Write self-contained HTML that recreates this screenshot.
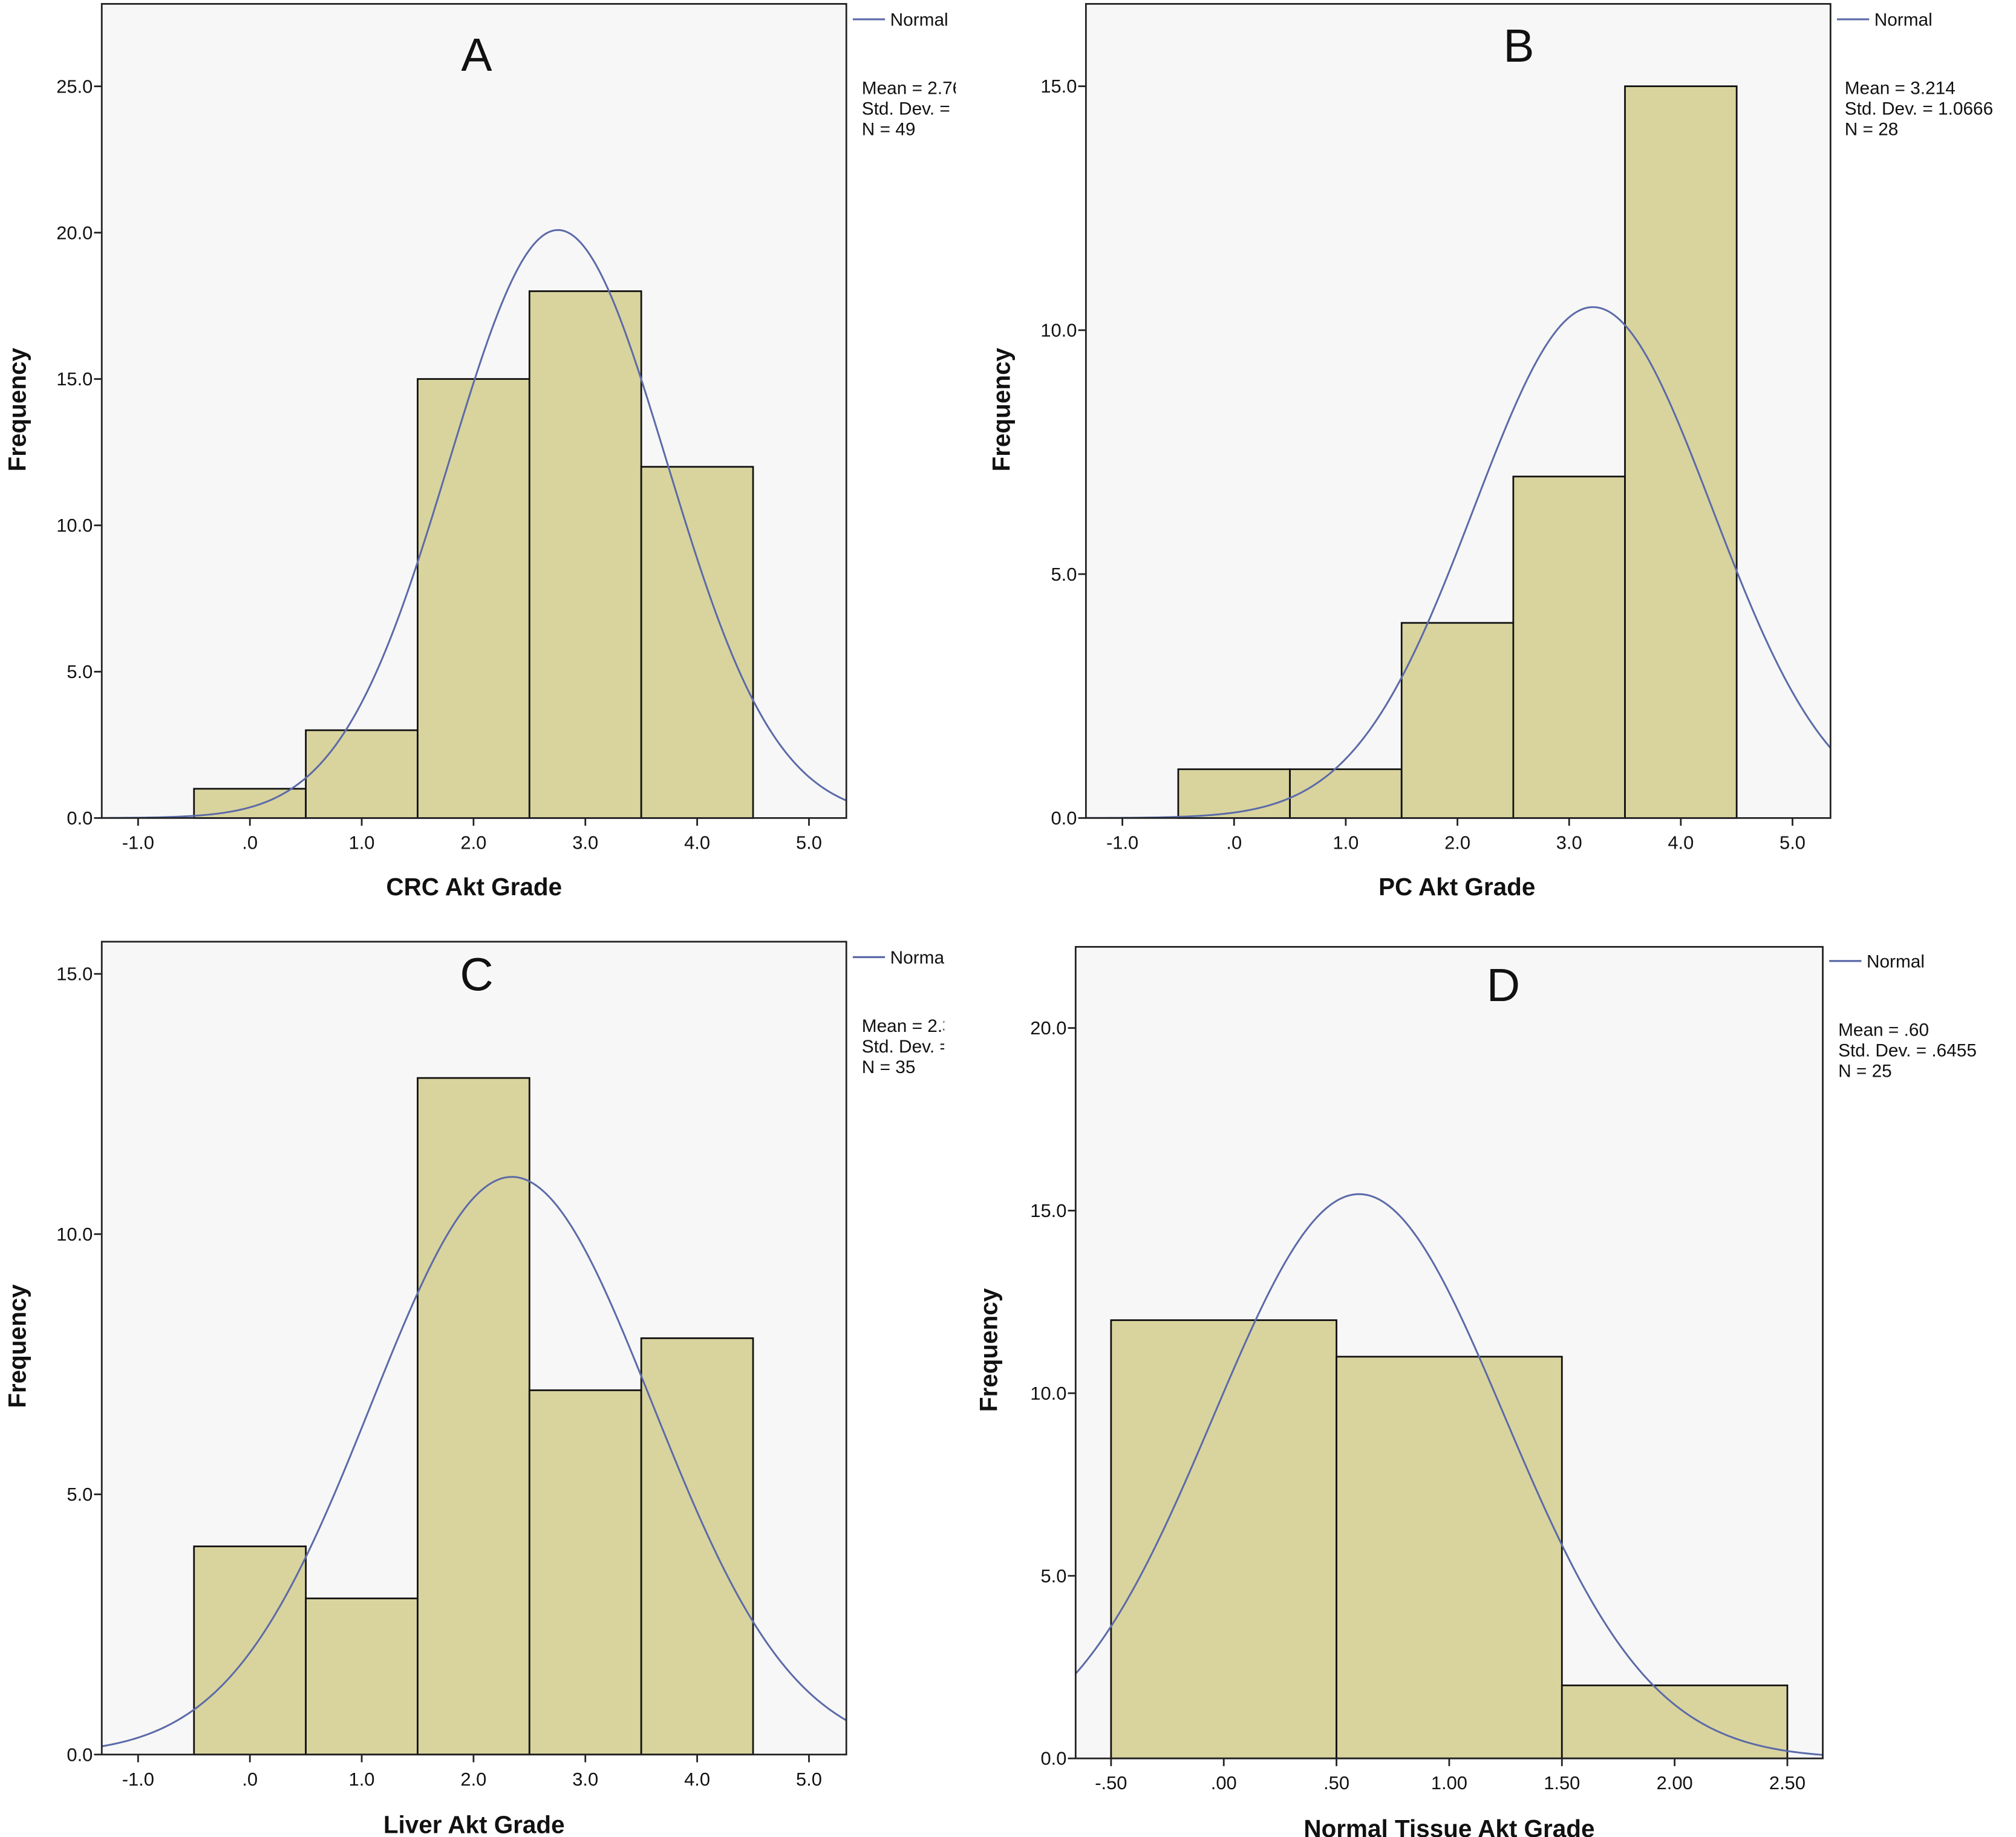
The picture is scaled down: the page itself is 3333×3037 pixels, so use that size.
<!DOCTYPE html>
<html><head><meta charset="utf-8"><title>Akt Grade histograms</title>
<style>
html,body{margin:0;padding:0;background:#fff;}
svg{display:block;font-family:"Liberation Sans",Arial,sans-serif;}
</style></head>
<body>
<svg id="fig" width="3333" height="3037" viewBox="0 0 1565 1426" xmlns="http://www.w3.org/2000/svg"></svg>
<script>
// Panel A data
const aEdges = [-0.5, 0.5, 1.5, 2.5, 3.5, 4.5];
const aCounts = [1, 3, 15, 18, 12];
const aStats = {mean: 2.755, sd: 0.973, n: 49, bw: 1};
const aXTicks = [-1, 0, 1, 2, 3, 4, 5];
const aXLabels = ["-1.0", ".0", "1.0", "2.0", "3.0", "4.0", "5.0"];
const aYTicks = [0, 5, 10, 15, 20, 25];
const aStatText = ["Mean = 2.76", "Std. Dev. = .973", "N = 49"];
// Panel B data
const bEdges = [-0.5, 0.5, 1.5, 2.5, 3.5, 4.5];
const bCounts = [1, 1, 4, 7, 15];
const bStats = {mean: 3.214, sd: 1.0666, n: 28, bw: 1};
const bXTicks = [-1, 0, 1, 2, 3, 4, 5];
const bXLabels = ["-1.0", ".0", "1.0", "2.0", "3.0", "4.0", "5.0"];
const bYTicks = [0, 5, 10, 15];
const bStatText = ["Mean = 3.214", "Std. Dev. = 1.0666", "N = 28"];
// Panel C data
const cEdges = [-0.5, 0.5, 1.5, 2.5, 3.5, 4.5];
const cCounts = [4, 3, 13, 7, 8];
const cStats = {mean: 2.343, sd: 1.258, n: 35, bw: 1};
const cXTicks = [-1, 0, 1, 2, 3, 4, 5];
const cXLabels = ["-1.0", ".0", "1.0", "2.0", "3.0", "4.0", "5.0"];
const cYTicks = [0, 5, 10, 15];
const cStatText = ["Mean = 2.34", "Std. Dev. = 1.258", "N = 35"];
// Panel D data
const dEdges = [-0.5, 0.5, 1.5, 2.5];
const dCounts = [12, 11, 2];
const dStats = {mean: 0.60, sd: 0.6455, n: 25, bw: 1};
const dXTicks = [-0.5, 0, 0.5, 1, 1.5, 2, 2.5];
const dXLabels = ["-.50", ".00", ".50", "1.00", "1.50", "2.00", "2.50"];
const dYTicks = [0, 5, 10, 15, 20];
const dStatText = ["Mean = .60", "Std. Dev. = .6455", "N = 25"];

const NS = "http://www.w3.org/2000/svg";
const fig = document.getElementById("fig");
function mk(tag, attrs, parent, text) {
  const e = document.createElementNS(NS, tag);
  for (const k in attrs) e.setAttribute(k, attrs[k]);
  if (text !== undefined) e.textContent = text;
  (parent || fig).appendChild(e);
  return e;
}

function panel(p) {
  const g = mk("g", {});
  
  
  const X = v => p.x0 + (v - p.xv0) * p.xs;
  const Y = v => p.y0 - v * p.ys;
  // plot background
  const bg = mk("rect", {x: p.L, y: p.T, width: p.R - p.L, height: p.B - p.T, fill: "#f7f7f7"}, g);
  
  
  // bars
  for (let i = 0; i < p.counts.length; i++) {
    const b = mk("rect", {x: X(p.edges[i]), y: Y(p.counts[i]), width: X(p.edges[i + 1]) - X(p.edges[i]),
      height: Y(0) - Y(p.counts[i]), fill: "#d9d49e", stroke: "#111", "stroke-width": 1.3}, g);
    
    
  }
  // normal curve
  const clipId = "clip" + p.id;
  const cp = mk("clipPath", {id: clipId}, g);
  mk("rect", {x: p.L, y: p.T, width: p.R - p.L, height: p.B - p.T}, cp);
  let d = "";
  const xa = p.xv0 + (p.L - p.x0) / p.xs, xb = p.xv0 + (p.R - p.x0) / p.xs;
  const s = p.stats;
  for (let k = 0; k <= 300; k++) {
    const v = xa + (xb - xa) * k / 300;
    const f = s.n * s.bw / (s.sd * Math.sqrt(2 * Math.PI)) * Math.exp(-0.5 * Math.pow((v - s.mean) / s.sd, 2));
    d += (k ? "L" : "M") + X(v).toFixed(2) + "," + Y(f).toFixed(2);
  }
  const c = mk("path", {d: d, fill: "none", stroke: "#5b6aa8", "stroke-width": 1.4, "clip-path": "url(#" + clipId + ")"}, g);
  
  
  // frame
  mk("rect", {x: p.L, y: p.T, width: p.R - p.L, height: p.B - p.T, fill: "none", stroke: "#222", "stroke-width": 1.3}, g);
  // y ticks
  p.yticks.forEach(t => {
    mk("line", {x1: p.L - 6, x2: p.L, y1: Y(t), y2: Y(t), stroke: "#222", "stroke-width": 1.3}, g);
    const tl = mk("text", {x: p.L - 7, y: Y(t) + 5, "text-anchor": "end", "font-size": 14.5, fill: "#111"}, g, t.toFixed(1));
    
    
  });
  // x ticks
  p.xticks.forEach((t, i) => {
    mk("line", {x1: X(t), x2: X(t), y1: p.B, y2: p.B + 6, stroke: "#222", "stroke-width": 1.3}, g);
    const tl = mk("text", {x: X(t), y: p.B + 24, "text-anchor": "middle", "font-size": 14.5, fill: "#111"}, g, p.xlabels[i]);
    
    
  });
  // titles
  const tt = mk("text", {x: p.titleX, y: p.T + p.titleDy, "text-anchor": "middle", "font-size": 36, fill: "#111"}, g, p.id);
  
  
  const xt = mk("text", {x: p.xlabX, y: p.xlabY, "text-anchor": "middle", "font-size": 19, "font-weight": "bold", fill: "#111"}, g, p.xlab);
  
  
  const yt = mk("text", {x: 0, y: 0, "text-anchor": "middle", "font-size": 19, "font-weight": "bold", fill: "#111",
    transform: "translate(" + p.ylabX + "," + p.ylabY + ") rotate(-90)"}, g, "Frequency");
  
  
  // legend
  const lcId = "lclip" + p.id;
  const lc = mk("clipPath", {id: lcId}, g);
  mk("rect", {x: p.R, y: p.T - 5, width: p.legClip - p.R, height: 140}, lc);
  const lg = mk("g", {"clip-path": "url(#" + lcId + ")"}, g);
  
  
  mk("line", {x1: p.R + 5, x2: p.R + 30, y1: p.legY, y2: p.legY, stroke: "#5b6aa8", "stroke-width": 1.5}, lg);
  mk("text", {x: p.R + 34, y: p.legY + 5, "font-size": 14, fill: "#111"}, lg, "Normal");
  p.statText.forEach((t, i) => {
    const st = mk("text", {x: p.R + p.statDx, y: p.statY + i * 16, "font-size": 14, fill: "#111"}, lg, t);
    
    
  });
}

panel({id: "A", L: 79, R: 657, T: 3, B: 635, x0: 194, xv0: 0, xs: 86.8, y0: 635, ys: 22.72,
  edges: aEdges, counts: aCounts, stats: aStats, xticks: aXTicks, xlabels: aXLabels, yticks: aYTicks, statText: aStatText,
  titleX: 370, titleDy: 52, xlab: "CRC Akt Grade", xlabX: 368, xlabY: 695, ylabX: 20, ylabY: 318,
  legY: 15, statDx: 12, statY: 73, legClip: 742});
panel({id: "B", L: 843, R: 1421, T: 3, B: 635, x0: 958, xv0: 0, xs: 86.7, y0: 635, ys: 37.87,
  edges: bEdges, counts: bCounts, stats: bStats, xticks: bXTicks, xlabels: bXLabels, yticks: bYTicks, statText: bStatText,
  titleX: 1179, titleDy: 45, xlab: "PC Akt Grade", xlabX: 1131, xlabY: 695, ylabX: 784, ylabY: 318,
  legY: 15, statDx: 11, statY: 73, legClip: 1565});
panel({id: "C", L: 79, R: 657, T: 731, B: 1362, x0: 194, xv0: 0, xs: 86.8, y0: 1362, ys: 40.4,
  edges: cEdges, counts: cCounts, stats: cStats, xticks: cXTicks, xlabels: cXLabels, yticks: cYTicks, statText: cStatText,
  titleX: 370, titleDy: 38, xlab: "Liver Akt Grade", xlabX: 368, xlabY: 1423, ylabX: 20, ylabY: 1045,
  legY: 743, statDx: 12, statY: 801, legClip: 733});
panel({id: "D", L: 835, R: 1415, T: 735, B: 1365, x0: 950, xv0: 0, xs: 175, y0: 1365, ys: 28.35,
  edges: dEdges, counts: dCounts, stats: dStats, xticks: dXTicks, xlabels: dXLabels, yticks: dYTicks, statText: dStatText,
  titleX: 1167, titleDy: 42, xlab: "Normal Tissue Akt Grade", xlabX: 1125, xlabY: 1426 - 0, ylabX: 774, ylabY: 1048,
  legY: 746, statDx: 12, statY: 804, legClip: 1565});
</script>
</body></html>
